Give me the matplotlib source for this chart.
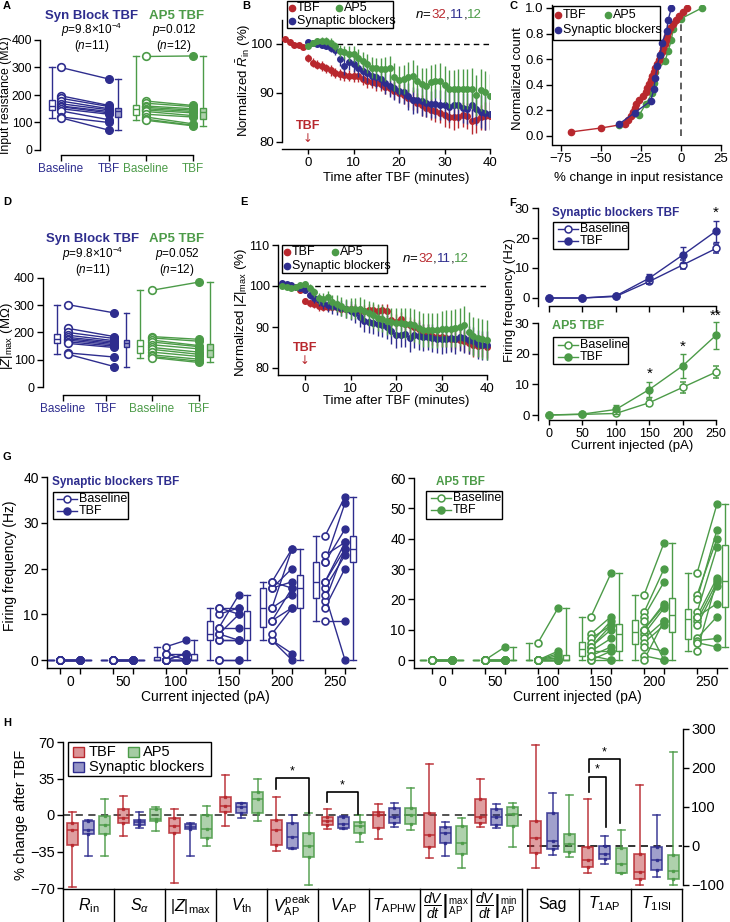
import numpy as np
import matplotlib
matplotlib.use('Agg')
import matplotlib.pyplot as plt
from matplotlib.lines import Line2D
from matplotlib.patches import Rectangle
from matplotlib.colors import to_rgba
import matplotlib.transforms as mtrans

# ===================== DATA =====================
# Panel A: input resistance (MOhm), paired cells
A_syn_base = [300, 197, 188, 178, 168, 160, 157, 150, 142, 120, 117]
A_syn_tbf = [258, 162, 158, 150, 146, 140, 135, 130, 110, 100, 72]
A_ap5_base = [340, 178, 170, 160, 155, 150, 145, 140, 130, 120, 112, 108]
A_ap5_tbf = [342, 162, 158, 150, 145, 140, 135, 125, 120, 95, 90, 88]
pair_labels = ['Baseline', 'TBF', 'Baseline', 'TBF']

# Panel B: normalized Rin time course
B_time_red = list(range(-5, 41))
B_time_grp = list(range(0, 41))
B_red = [101.0, 100.5, 99.8, 99.8, 99.3,
         97.2, 96.2, 95.8, 95.5, 95.0, 94.6, 94.1, 93.8, 93.7, 93.5,
         93.4, 93.5, 92.8, 92.5, 92.3, 92.0, 91.8, 91.3, 91.0, 90.5,
         90.0, 89.5, 89.0, 88.6, 88.0, 87.5, 87.0, 86.6, 86.3, 86.0,
         85.5, 85.2, 85.0, 85.2, 85.6, 85.3, 84.2, 84.5, 85.0, 85.3,
         85.4]
B_red_err = [0.4, 0.4, 0.3, 0.4, 0.4,
             0.8, 0.9, 0.9, 1.0, 1.0, 1.1, 1.0, 1.1, 1.2, 1.1,
             1.2, 1.3, 1.2, 1.4, 1.3, 1.5, 1.4, 1.6, 1.5, 1.7,
             1.8, 1.7, 1.9, 2.0, 1.9, 2.1, 2.0, 2.2, 2.3, 2.2,
             2.4, 2.3, 2.5, 2.4, 2.5, 2.6, 2.5, 2.7, 2.6, 2.8,
             2.7]
B_blue = [100.5, 100.2, 100.0, 99.8, 99.6, 99.2, 98.8, 97.0, 95.5, 96.3,
          96.0, 95.0, 94.5, 94.0, 93.5, 93.3, 92.8, 92.0, 91.5, 91.0,
          90.5, 90.3, 89.3, 88.5, 88.5, 88.3, 88.0, 87.7, 87.8, 87.5,
          87.6, 87.2, 87.6, 87.5, 87.0, 86.8, 87.5, 86.7, 86.2, 86.0,
          85.8]
B_blue_err = [0.5, 0.6, 0.6, 0.7, 0.7, 0.8, 1.0, 1.5, 1.8, 1.6,
              1.7, 1.8, 2.0, 1.9, 2.1, 2.2, 2.0, 2.3, 2.4, 2.5,
              2.6, 2.5, 2.7, 2.8, 2.6, 2.9, 3.0, 2.8, 3.0, 3.1,
              2.9, 3.2, 3.0, 3.3, 3.1, 3.2, 3.4, 3.2, 3.3, 3.5,
              3.4]
B_green = [99.6, 100.2, 100.6, 100.7, 100.6, 100.3, 99.5, 98.5, 98.3, 98.0,
           97.9, 97.2, 96.5, 96.0, 95.2, 95.0, 94.8, 94.9, 95.0, 93.3,
           92.7, 92.8, 93.3, 93.5, 92.5, 91.8, 91.5, 92.2, 92.5, 92.5,
           91.7, 90.8, 90.8, 90.8, 90.8, 90.8, 90.9, 89.5, 90.6, 90.2,
           89.4]
B_green_err = [0.5, 0.6, 0.6, 0.7, 0.8, 0.9, 1.0, 1.2, 1.3, 1.5,
               1.6, 1.7, 1.8, 2.0, 2.1, 2.2, 2.3, 2.5, 2.6, 2.8,
               2.9, 3.0, 3.1, 3.2, 3.3, 3.4, 3.5, 3.6, 3.5, 3.7,
               3.8, 3.9, 3.8, 4.0, 4.1, 4.0, 4.2, 4.1, 4.3, 4.2,
               4.4]

# Panel C: % change in input resistance (sorted, per cell)
C_tbf = [-69, -50, -35, -33, -31, -30, -29, -28, -26, -24,
         -22, -21, -20, -19, -18, -17, -16, -15, -14, -13,
         -12, -11, -10, -9.5, -9, -8, -7, -5, -3, -1, 1, 4]
C_syn = [-39, -29, -19, -17, -16, -15, -13, -12, -9, -8, -6]
C_ap5 = [-39, -26, -22, -18, -17, -16, -10, -8, -6, -5, 0, 13]

# Panel D: |Z|max (MOhm)
D_syn_base = [302, 215, 200, 190, 182, 177, 172, 166, 160, 125, 120]
D_syn_tbf = [272, 185, 178, 170, 165, 160, 155, 150, 145, 110, 75]
D_ap5_base = [355, 185, 180, 172, 165, 155, 145, 138, 128, 118, 112, 108]
D_ap5_tbf = [385, 175, 168, 152, 148, 140, 128, 120, 112, 102, 95, 90]

# Panel E: normalized |Z|max time course (-5..40 min)
E_time = list(range(-5, 41))
E_red = [100.5, 100.3, 100.0, 99.8, 99.0,
         96.3, 95.8, 95.5, 95.0, 94.9, 94.9, 94.8, 94.8, 94.5, 94.3,
         94.3, 94.2, 94.0, 94.0, 94.2, 94.1, 94.0, 94.1, 94.0, 91.8,
         91.3, 92.0, 90.8, 90.5, 90.0, 89.5, 88.8, 88.5, 87.8, 87.5,
         87.5, 87.3, 87.0, 87.0, 86.8, 86.5, 86.0, 85.5, 85.3, 85.5,
         85.2]
E_red_err = [0.3, 0.3, 0.3, 0.4, 0.5,
             0.8, 0.9, 0.9, 1.0, 1.0, 1.1, 1.0, 1.1, 1.2, 1.1,
             1.2, 1.3, 1.2, 1.4, 1.3, 1.5, 1.4, 1.6, 1.5, 1.7,
             1.8, 1.7, 1.9, 2.0, 1.9, 2.1, 2.0, 2.2, 2.3, 2.2,
             2.4, 2.3, 2.5, 2.4, 2.5, 2.6, 2.5, 2.7, 2.6, 2.8,
             2.7]
E_blue = [100.8, 100.6, 100.2, 99.8, 99.5,
          99.0, 97.8, 97.0, 96.5, 95.8, 95.3, 95.0, 94.8, 94.6, 94.5,
          94.0, 93.3, 92.5, 91.5, 91.2, 91.0, 90.8, 90.5, 90.0, 89.0,
          88.0, 88.0, 88.2, 87.3, 88.0, 87.8, 87.5, 87.5, 87.3, 87.0,
          87.0, 87.0, 87.2, 87.0, 87.5, 87.3, 86.8, 86.5, 85.8, 85.5,
          85.5]
E_blue_err = [0.4, 0.4, 0.5, 0.5, 0.6,
              0.8, 1.0, 1.2, 1.3, 1.5, 1.6, 1.8, 1.9, 2.0, 2.2,
              2.3, 2.4, 2.5, 2.6, 2.7, 2.8, 2.9, 3.0, 3.0, 3.1,
              3.2, 3.0, 3.1, 3.3, 3.2, 3.4, 3.3, 3.2, 3.4, 3.3,
              3.5, 3.4, 3.3, 3.5, 3.4, 3.6, 3.5, 3.4, 3.5, 3.6,
              3.5]
E_green = [100.0, 99.8, 99.5, 99.8, 100.2,
           100.5, 99.5, 98.5, 97.0, 96.8, 97.2, 96.0, 95.7, 95.0, 94.5,
           94.5, 94.5, 94.5, 94.0, 93.3, 92.9, 92.3, 92.0, 91.5, 91.2,
           91.0, 91.0, 90.8, 90.8, 90.4, 89.8, 89.2, 89.2, 89.2, 89.2,
           89.4, 89.6, 89.6, 89.8, 90.0, 90.4, 88.9, 87.7, 87.4, 87.1,
           86.8]
E_green_err = [0.4, 0.5, 0.5, 0.6, 0.6,
               0.7, 0.9, 1.1, 1.3, 1.5, 1.7, 1.9, 2.1, 2.2, 2.4,
               2.5, 2.6, 2.8, 2.9, 3.0, 3.1, 3.2, 3.3, 3.4, 3.5,
               3.6, 3.7, 3.8, 3.9, 4.0, 4.0, 4.1, 4.2, 4.3, 4.3,
               4.4, 4.5, 4.5, 4.6, 4.6, 4.7, 4.7, 4.8, 4.8, 4.9,
               4.9]

# Panel F: mean firing frequency (Hz) vs current (pA)
F_current = [0, 50, 100, 150, 200, 250]
F_syn_base = [0, 0, 0.5, 5.5, 11.0, 16.5]
F_syn_base_err = [0, 0, 0.3, 1.0, 1.5, 1.5]
F_syn_tbf = [0, 0, 0.7, 6.6, 14.3, 22.3]
F_syn_tbf_err = [0, 0, 0.3, 1.5, 2.6, 3.5]
F_ap5_base = [0, 0.2, 0.5, 4.0, 9.0, 14.0]
F_ap5_base_err = [0, 0.2, 0.5, 1.2, 1.8, 2.0]
F_ap5_tbf = [0, 0.3, 1.8, 8.3, 16.0, 26.0]
F_ap5_tbf_err = [0, 0.3, 1.5, 2.5, 3.8, 4.4]

# Panel G: per-cell firing frequency (Hz), rows = 0,50,...,250 pA
G_labels = ['0', '50', '100', '150', '200', '250']
G_syn_base = [
    [0, 0, 0, 0, 0, 0, 0, 0, 0, 0, 0],
    [0, 0, 0, 0, 0, 0, 0, 0, 0, 0, 0],
    [0, 0, 0, 0, 0, 0, 0, 0, 1.4, 1.4, 2.9],
    [0, 0, 4.3, 4.3, 5.7, 5.7, 7.1, 7.1, 10, 11.4, 11.4],
    [4.3, 4.3, 5.7, 8.6, 8.6, 11.4, 11.4, 15.7, 15.7, 17.1, 17.1],
    [8.6, 11.4, 12.9, 14.3, 15.7, 17.1, 17.1, 21.4, 21.4, 22.9, 27.1]]
G_syn_tbf = [
    [0, 0, 0, 0, 0, 0, 0, 0, 0, 0, 0],
    [0, 0, 0, 0, 0, 0, 0, 0, 0, 0, 0],
    [0, 0, 0, 0, 1.4, 0, 0, 1.4, 0, 1.4, 4.3],
    [0, 0, 4.3, 4.3, 10, 4.3, 14.3, 7.1, 11.4, 11.4, 10],
    [0, 1.4, 11.4, 11.4, 15.7, 14.3, 24.3, 17.1, 20, 24.3, 15.7],
    [8.6, 20, 24.3, 0, 22.9, 25.7, 24.3, 34.3, 28.6, 25.7, 35.7]]
G_ap5_base = [
    [0, 0, 0, 0, 0, 0, 0, 0, 0, 0, 0, 0],
    [0, 0, 0, 0, 0, 0, 0, 0, 0, 0, 0, 0],
    [0, 0, 0, 0, 0, 0, 0, 0, 0, 0, 0, 5.7],
    [14.3, 8.6, 7.1, 5.7, 4.3, 4.3, 2.9, 2.9, 1.4, 0, 0, 1.4],
    [21.4, 15.7, 14.3, 10, 8.6, 7.1, 5.7, 4.3, 1.4, 0, 12.9, 10],
    [28.6, 21.4, 20, 15.7, 14.3, 12.9, 11.4, 14.3, 7.1, 6.4, 5.7, 2.9]]
G_ap5_tbf = [
    [0, 0, 0, 0, 0, 0, 0, 0, 0, 0, 0, 0],
    [0, 0, 0, 0, 0, 0, 0, 0, 0, 0, 0, 4.3],
    [0, 0, 0, 0, 0, 0, 0.7, 1.4, 2.1, 2.9, 0, 17.1],
    [28.6, 14.3, 11.4, 12.9, 10, 11.4, 7.1, 2.9, 4.3, 0, 2.9, 0],
    [38.6, 30, 25.7, 18.6, 17.1, 12.9, 11.4, 2.9, 0, 12.9, 0, 17.9],
    [51.4, 40, 42.9, 37.1, 27.1, 25.7, 24.3, 18.6, 14.3, 7.1, 4.3, 26.4]]

# Panel H: % change after TBF (whislo, q1, median, q3, whishi)
H_labels_left = [r'$R_{\rm in}$', r'$S_{\alpha}$', r'$|Z|_{\rm max}$', r'$V_{\rm th}$',
                 r'$V_{\rm AP}^{\rm peak}$', r'$V_{\rm AP}$', r'$T_{\rm APHW}$',
                 r'$\left.\dfrac{dV}{dt}\right|_{\rm AP}^{\rm max}$',
                 r'$\left.\dfrac{dV}{dt}\right|_{\rm AP}^{\rm min}$']
H_labels_right = ['Sag', r'$T_{\rm 1AP}$', r'$T_{\rm 1ISI}$']
H_tbf = [(-69, -29, -14, -8, 3), (-20, -8, -2.6, 5.5, 18.3), (-65, -17, -10.6, -3.2, 5.8),
         (-10.6, 3.2, 9, 17, 38), (-34.7, -28.9, -14.5, -4.8, 17), (-13.8, -9.6, -5.5, -2.2, 5.8),
         (-23, -12.8, 0, 3.2, 10.2), (-41.5, -31, -19.2, 2.2, 48.8), (-11.2, -7.4, -2.2, 15.3, 34.4),
         (-56, -19, 20, 64, 259), (-70, -55, -36, -2, 120), (-100, -85, -66, -21, 156)]
H_syn = [(-39, -18, -14, -6, -5), (-12, -9.6, -6.4, -4.8, 3.2), (-39, -13.8, -11.2, -8.7, -8),
         (-3.2, 1.6, 7.4, 11.2, 11.9), (-33, -32, -21.5, -8, 0), (-13.8, -12.8, -8.7, -1.6, -1),
         (-11.8, -8, -2.2, 7, 11.8), (-39, -26.5, -17, -11.2, -6.4), (-12.2, -9.6, -1.6, 5.8, 10.2),
         (-23, -9, 14, 85, 135), (-47, -34, -21, 0, 26), (-79, -62, -36, -2, 80)]
H_ap5 = [(-39, -18, -9.6, -1, 15), (-15.4, -5.8, -3.9, 5.5, 8), (-30, -21.8, -13.8, 0, 9),
         (-5.5, 1.6, 15, 22.5, 34.7), (-67.4, -40, -29.5, -17.7, 1.6), (-26.3, -17, -10.6, -6.4, 0),
         (-14.4, -9, 0, 7, 25.6), (-50.5, -37.7, -26.5, -10.6, -3.2), (-30.4, -10.6, 1, 8, 11.2),
         (-29, -15, 5, 31, 132), (-68, -68, -47, -4, 41), (-100, -85, -63, -23, 240)]

# ===================== STYLE / LAYOUT =====================
W, H = 730, 922
BLUE = '#2e2d8e'
GREEN = '#4c9b48'
RED = '#b8282e'

plt.rcParams.update({
    'font.family': ['Liberation Sans', 'DejaVu Sans'],
    'mathtext.fontset': 'custom',
    'mathtext.rm': 'Liberation Sans',
    'mathtext.it': 'Liberation Sans:italic',
    'mathtext.bf': 'Liberation Sans:bold',
    'mathtext.sf': 'Liberation Sans',
    'font.size': 9,
    'axes.linewidth': 1.0,
    'xtick.major.width': 1.0, 'ytick.major.width': 1.0,
    'xtick.major.size': 4, 'ytick.major.size': 4,
    'xtick.labelsize': 9.5, 'ytick.labelsize': 9.5,
    'xtick.major.pad': 2, 'ytick.major.pad': 2,
})

fig = plt.figure(figsize=(W / 100, H / 100), dpi=100)


def fx(x):
    return x / W


def fy(y):
    return 1 - y / H


def make_ax(box, xmap, ymap):
    l, t, r, b = box
    ax = fig.add_axes([l / W, 1 - b / H, (r - l) / W, (b - t) / H])
    (p1, v1), (p2, v2) = xmap
    s = (p2 - p1) / (v2 - v1)
    ax.set_xlim(v1 + (l - p1) / s, v1 + (r - p1) / s)
    (p1, v1), (p2, v2) = ymap
    s = (p2 - p1) / (v2 - v1)
    ax.set_ylim(v1 + (b - p1) / s, v1 + (t - p1) / s)
    ax.spines[['top', 'right']].set_visible(False)
    ax.patch.set_alpha(0)
    return ax


def ftext(x, y, s, **kw):
    kw.setdefault('ha', 'center')
    kw.setdefault('va', 'center')
    return fig.text(fx(x), fy(y), s, **kw)


def legend_box(x0, y0, x1, y1):
    fig.add_artist(Rectangle((fx(x0), fy(y1)), (x1 - x0) / W, (y1 - y0) / H,
                             transform=fig.transFigure, facecolor='white',
                             edgecolor='black', lw=1.0, zorder=10))


def leg_dot(x, y, color, label, tx, fs=9, ms=5):
    fig.add_artist(Line2D([fx(x)], [fy(y)], marker='o', color=color, ms=ms, ls='none',
                          transform=fig.transFigure, zorder=11))
    fig.text(fx(tx), fy(y), label, ha='left', va='center', fontsize=fs, zorder=11)


def leg_line(x0, x1, y, color, filled, label, tx, fs=9, ms=5):
    fig.add_artist(Line2D([fx(x0), fx(x1)], [fy(y), fy(y)], color=color, lw=1,
                          transform=fig.transFigure, zorder=11))
    fig.add_artist(Line2D([fx((x0 + x1) / 2)], [fy(y)], marker='o', ms=ms, mec=color,
                          mfc=color if filled else 'white', mew=1.1, ls='none',
                          transform=fig.transFigure, zorder=12))
    fig.text(fx(tx), fy(y), label, ha='left', va='center', fontsize=fs, zorder=11)


def leg_patch(x, y, color, label, tx, fs=10.5):
    fig.add_artist(Rectangle((fx(x - 5.5), fy(y + 5)), 11 / W, 10 / H, transform=fig.transFigure,
                             facecolor=to_rgba(color, 0.5), edgecolor=color, lw=1.0, zorder=11))
    fig.text(fx(tx), fy(y), label, ha='left', va='center', fontsize=fs, zorder=11)


def multicolor(x, y, parts, fs=9.5):
    r = fig.canvas.get_renderer()
    cur = x
    for s, c in parts:
        t = fig.text(fx(cur), fy(y), s, color=c, fontsize=fs, ha='left', va='center')
        cur += t.get_window_extent(renderer=r).width


def boxes(ax, data, positions, color, fills, width, lw=1.0):
    for d, p, f in zip(data, positions, fills):
        ax.boxplot([d], positions=[p], widths=width, whis=(0, 100), showfliers=False,
                   patch_artist=True, manage_ticks=False, capwidths=width,
                   boxprops=dict(facecolor=to_rgba(color, 0.45) if f else 'white',
                                 edgecolor=color, lw=lw),
                   medianprops=dict(color=color, lw=lw),
                   whiskerprops=dict(color=color, lw=lw),
                   capprops=dict(color=color, lw=lw), zorder=2)


def paired(ax, xb, xt, base, tbf, color, ms=5.5):
    for b, t in zip(base, tbf):
        ax.plot([xb, xt], [b, t], color=color, lw=1, zorder=3)
    ax.plot([xb] * len(base), base, 'o', mfc='white', mec=color, ms=ms, mew=1.2, zorder=4)
    ax.plot([xt] * len(tbf), tbf, 'o', mfc=color, mec=color, ms=ms, zorder=4)


def panel_letter(x, y, s):
    ftext(x, y, s, fontsize=8, weight='bold', ha='left')


# ===================== PANEL A =====================
axA = make_ax((40, 35, 220, 155), ((61, 0), (109, 1)), ((150, 0), (40, 400)))
posA = [0, 1, 1.77, 2.75]
boxA = [-0.19, 1.19, 1.56, 2.96]
paired(axA, posA[0], posA[1], A_syn_base, A_syn_tbf, BLUE)
paired(axA, posA[2], posA[3], A_ap5_base, A_ap5_tbf, GREEN)
boxes(axA, [A_syn_base, A_syn_tbf], [boxA[0], boxA[1]], BLUE, [False, True], 0.11)
boxes(axA, [A_ap5_base, A_ap5_tbf], [boxA[2], boxA[3]], GREEN, [False, True], 0.11)
axA.set_yticks([0, 100, 200, 300, 400])
axA.spines['left'].set_bounds(0, 400)
axA.set_xticks(posA)
axA.set_xticklabels(pair_labels)
axA.tick_params(axis='x', labelsize=8.5)
axA.tick_params(axis='y', labelsize=8.8, pad=1.5)
for lab, c in zip(axA.get_xticklabels(), [BLUE, BLUE, GREEN, GREEN]):
    lab.set_color(c)
axA.spines['bottom'].set_bounds(0, posA[-1])
panel_letter(3, 6, 'A')
ftext(6, 95, 'Input resistance (MΩ)', rotation=90, fontsize=8.8)
ftext(92, 16, 'Syn Block TBF', color=BLUE, weight='bold', fontsize=9.5)
ftext(177, 16, 'AP5 TBF', color=GREEN, weight='bold', fontsize=9.5)
ftext(92, 30, r'$p$=9.8×10$^{-4}$', fontsize=8.5)
ftext(92, 46.5, r'($n$=11)', fontsize=8.5)
ftext(174, 30, r'$p$=0.012', fontsize=8.5)
ftext(174, 46.5, r'($n$=12)', fontsize=8.5)

# ===================== PANEL B =====================
axB = make_ax((282, 20, 490, 149), ((308, 0), (353.5, 10)), ((44, 100), (142, 80)))
axB.plot([0, 41], [100, 100], color='black', lw=1, dashes=(4, 3), zorder=1)
axB.errorbar(B_time_red, B_red, yerr=B_red_err, fmt='o', ms=4, color=RED, elinewidth=1, capsize=0, zorder=3)
axB.errorbar(B_time_grp, B_blue, yerr=B_blue_err, fmt='o', ms=4, color=BLUE, elinewidth=1, capsize=0, zorder=4)
axB.errorbar(B_time_grp, B_green, yerr=B_green_err, fmt='o', ms=4, color=GREEN, elinewidth=1, capsize=0, zorder=5)
axB.set_yticks([80, 90, 100])
axB.set_xticks([0, 10, 20, 30, 40])
axB.tick_params(axis='x', length=3.5)
axB.spines['left'].set_bounds(80, axB.get_ylim()[1])
axB.spines['bottom'].set_bounds(axB.get_xlim()[0], 40)
panel_letter(242, 6, 'B')
ftext(244, 80, r'Normalized $\bar{R}_{\rm in}$ (%)', rotation=90, fontsize=9.5)
ftext(396, 178, 'Time after TBF (minutes)', fontsize=9.5)
ftext(308, 126, 'TBF', color=RED, weight='bold', fontsize=9)
ftext(308, 138, '↓', color=RED, fontsize=8.5, family=['DejaVu Sans'])
legend_box(287, 1, 393, 28)
leg_dot(292, 8, RED, 'TBF', 297, fs=9, ms=4.5)
leg_dot(339, 8, GREEN, 'AP5', 344, fs=9, ms=4.5)
leg_dot(292, 21, BLUE, 'Synaptic blockers', 297, fs=9, ms=4.5)
multicolor(415, 15, [(r'$n$=', 'black'), ('32', RED), (',', 'black'), ('11', BLUE),
                     (',', 'black'), ('12', GREEN)])

# ===================== PANEL C =====================
axC = make_ax((552, 5, 730, 145), ((561, -75), (721, 25)), ((136, 0), (8, 1)))
axC.plot([0, 0], [0, 1.0], color='#444444', lw=1.2, dashes=(4, 3), zorder=1)
for vals, c, z in [(C_ap5, GREEN, 3), (C_tbf, RED, 4), (C_syn, BLUE, 5)]:
    n = len(vals)
    ycdf = [(i + 1) / n for i in range(n)]
    axC.plot(vals, ycdf, '-o', color=c, ms=4.5, lw=1, zorder=z)
axC.set_xticks([-75, -50, -25, 0, 25])
axC.set_yticks([0, 0.2, 0.4, 0.6, 0.8, 1.0])
axC.set_yticklabels(['0.0', '0.2', '0.4', '0.6', '0.8', '1.0'])
axC.spines['bottom'].set_bounds(-80, 25)
panel_letter(510, 6, 'C')
ftext(518, 79, 'Normalized count', rotation=90, fontsize=9.5)
ftext(639, 178, '% change in input resistance', fontsize=9.5)
legend_box(553, 6, 660, 40)
leg_dot(558, 15, RED, 'TBF', 563, fs=9, ms=4.5)
leg_dot(608, 15, GREEN, 'AP5', 613, fs=9, ms=4.5)
leg_dot(558, 30, BLUE, 'Synaptic blockers', 563, fs=9, ms=4.5)

# ===================== PANEL D =====================
axD = make_ax((43, 270, 218, 395), ((63, 0), (106, 1)), ((387, 0), (278, 400)))
circD = [0.12, 1.19, 2.07, 3.16]
boxD = [-0.14, 1.47, 1.79, 3.42]
tickD = [0, 1, 2.07, 3.16]
paired(axD, circD[0], circD[1], D_syn_base, D_syn_tbf, BLUE)
paired(axD, circD[2], circD[3], D_ap5_base, D_ap5_tbf, GREEN)
boxes(axD, [D_syn_base, D_syn_tbf], [boxD[0], boxD[1]], BLUE, [False, True], 0.12)
boxes(axD, [D_ap5_base, D_ap5_tbf], [boxD[2], boxD[3]], GREEN, [False, True], 0.12)
axD.set_yticks([0, 100, 200, 300, 400])
axD.spines['left'].set_bounds(0, 400)
axD.set_xticks(tickD)
axD.set_xticklabels(pair_labels)
axD.tick_params(axis='x', labelsize=8.5)
axD.tick_params(axis='y', labelsize=9)
for lab, c in zip(axD.get_xticklabels(), [BLUE, BLUE, GREEN, GREEN]):
    lab.set_color(c)
axD.spines['bottom'].set_bounds(0, tickD[-1])
panel_letter(3, 202, 'D')
ftext(7.5, 336, r'$|Z|_{\rm max}$ (MΩ)', rotation=90, fontsize=9.5)
ftext(93, 239, 'Syn Block TBF', color=BLUE, weight='bold', fontsize=9.5)
ftext(177, 239, 'AP5 TBF', color=GREEN, weight='bold', fontsize=9.5)
ftext(93, 254, r'$p$=9.8×10$^{-4}$', fontsize=8.5)
ftext(93, 270.5, r'($n$=11)', fontsize=8.5)
ftext(177, 254, r'$p$=0.052', fontsize=8.5)
ftext(177, 270.5, r'($n$=12)', fontsize=8.5)

# ===================== PANEL E =====================
axE = make_ax((278, 240, 490, 375), ((305, 0), (350.5, 10)), ((286, 100), (327, 90)))
axE.plot([0, 41], [100, 100], color='black', lw=1, dashes=(4, 3), zorder=1)
axE.errorbar(E_time, E_red, yerr=E_red_err, fmt='o', ms=4, color=RED, elinewidth=1, capsize=0, zorder=3)
axE.errorbar(E_time, E_blue, yerr=E_blue_err, fmt='o', ms=4, color=BLUE, elinewidth=1, capsize=0, zorder=4)
axE.errorbar(E_time, E_green, yerr=E_green_err, fmt='o', ms=4, color=GREEN, elinewidth=1, capsize=0, zorder=5)
axE.set_yticks([80, 90, 100, 110])
axE.set_xticks([0, 10, 20, 30, 40])
axE.tick_params(axis='x', length=3.5)
axE.tick_params(axis='y', labelsize=9)
axE.spines['left'].set_bounds(axE.get_ylim()[0], 110)
axE.spines['bottom'].set_bounds(axE.get_xlim()[0], 40)
panel_letter(240, 202, 'E')
ftext(241, 312, r'Normalized $|Z|_{\rm max}$ (%)', rotation=90, fontsize=9.5)
ftext(396, 401, 'Time after TBF (minutes)', fontsize=9.5)
ftext(305, 348, 'TBF', color=RED, weight='bold', fontsize=9)
ftext(305, 360, '↓', color=RED, fontsize=8.5, family=['DejaVu Sans'])
legend_box(282, 245, 387, 273)
leg_dot(287, 252, RED, 'TBF', 292, fs=9, ms=4.5)
leg_dot(335, 252, GREEN, 'AP5', 340, fs=9, ms=4.5)
leg_dot(287, 266, BLUE, 'Synaptic blockers', 292, fs=9, ms=4.5)
multicolor(402, 259, [(r'$n$=', 'black'), ('32', RED), (',', 'black'), ('11', BLUE),
                      (',', 'black'), ('12', GREEN)])

# ===================== PANEL F =====================
axF1 = make_ax((538, 205, 722, 306), ((549, 0), (716, 250)), ((298, 0), (208, 30)))
axF2 = make_ax((538, 320, 722, 420), ((549, 0), (716, 250)), ((415, 0), (323, 30)))
for ax, (b, be, t, te, c) in [(axF1, (F_syn_base, F_syn_base_err, F_syn_tbf, F_syn_tbf_err, BLUE)),
                              (axF2, (F_ap5_base, F_ap5_base_err, F_ap5_tbf, F_ap5_tbf_err, GREEN))]:
    ax.errorbar(F_current, b, yerr=be, fmt='-o', ms=5, color=c, mfc='white', mec=c, mew=1.1,
                lw=1, elinewidth=1, capsize=2.5, zorder=3)
    ax.errorbar(F_current, t, yerr=te, fmt='-o', ms=5, color=c, lw=1, elinewidth=1,
                capsize=2.5, zorder=4)
    ax.set_yticks([0, 10, 20, 30])
    ax.spines['left'].set_bounds(ax.get_ylim()[0], 30)
    ax.set_xticks(F_current)
    ax.spines['bottom'].set_bounds(0, 250)
axF1.set_xticklabels([])
axF2.tick_params(axis='x', length=3.5, labelsize=9)
panel_letter(509, 203, 'F')
ftext(510, 300, 'Firing frequency (Hz)', rotation=90, fontsize=9.5)
ftext(632, 446, 'Current injected (pA)', fontsize=9.5)
ftext(552, 213, 'Synaptic blockers TBF', color=BLUE, weight='bold', fontsize=8.5, ha='left')
ftext(552, 326, 'AP5 TBF', color=GREEN, weight='bold', fontsize=9, ha='left')
legend_box(553, 222, 628, 249)
leg_line(558, 578, 229.5, BLUE, False, 'Baseline', 580, fs=9)
leg_line(558, 578, 241.5, BLUE, True, 'TBF', 580, fs=9)
legend_box(553, 337, 628, 364)
leg_line(558, 578, 344.5, GREEN, False, 'Baseline', 580, fs=9)
leg_line(558, 578, 356.5, GREEN, True, 'TBF', 580, fs=9)
ftext(716, 213, '*', fontsize=11)
ftext(650, 374, '*', fontsize=11)
ftext(683, 347, '*', fontsize=11)
ftext(716, 316, '**', fontsize=11)

# ===================== PANEL G =====================
G_dx = 0.377
G_bb = -0.17
G_tb = 0.528


def g_panel(ax, base_rows, tbf_rows, color):
    for g, (b, t) in enumerate(zip(base_rows, tbf_rows)):
        paired(ax, g, g + G_dx, b, t, color, ms=5)
        boxes(ax, [b, t], [g + G_bb, g + G_tb], color, [False, False], 0.095)
    majors = []
    for g in range(len(base_rows)):
        majors += [g, g + G_dx]
    ax.set_xticks(majors)
    ax.set_xticklabels([])
    ax.set_xticks([g + G_dx / 2 for g in range(len(base_rows))], G_labels, minor=True)
    ax.tick_params(axis='x', which='minor', length=0, labelsize=10, pad=5)
    ax.tick_params(axis='y', labelsize=10)
    ax.spines['bottom'].set_bounds(ax.get_xlim()[0], len(base_rows) - 1 + G_tb + 0.03)


axG1 = make_ax((47, 470, 362, 668), ((60, 0), (113, 1)), ((660, 0), (477, 40)))
g_panel(axG1, G_syn_base, G_syn_tbf, BLUE)
axG1.set_yticks([0, 10, 20, 30, 40])
axG1.spines['left'].set_bounds(axG1.get_ylim()[0], 40)
axG2 = make_ax((414, 470, 730, 668), ((432, 0), (485, 1)), ((660, 0), (478, 60)))
g_panel(axG2, G_ap5_base, G_ap5_tbf, GREEN)
axG2.set_yticks([0, 10, 20, 30, 40, 50, 60])
axG2.spines['left'].set_bounds(axG2.get_ylim()[0], 60)
panel_letter(3, 457, 'G')
ftext(10, 566, 'Firing frequency (Hz)', rotation=90, fontsize=10)
ftext(205, 697, 'Current injected (pA)', fontsize=10)
ftext(577, 697, 'Current injected (pA)', fontsize=10)
ftext(52, 482, 'Synaptic blockers TBF', color=BLUE, weight='bold', fontsize=8.5, ha='left')
ftext(436, 482, 'AP5 TBF', color=GREEN, weight='bold', fontsize=8.5, ha='left')
legend_box(53, 492, 128, 519)
leg_line(57, 77, 499, BLUE, False, 'Baseline', 79, fs=9)
leg_line(57, 77, 511, BLUE, True, 'TBF', 79, fs=9)
legend_box(426, 491, 502, 519)
leg_line(431, 451, 498, GREEN, False, 'Baseline', 453, fs=9)
leg_line(431, 451, 510, GREEN, True, 'TBF', 453, fs=9)

# ===================== PANEL H =====================
axH = make_ax((63, 729, 683, 889), ((63, 0), (114, 1)), ((815, 0), (742, 70)))
axH2 = axH.twinx()
axH2.set_ylim(-110.3, 300)
axH2.spines[['left', 'top', 'bottom']].set_visible(False)
axH2.spines['right'].set_bounds(-100, 300)
axH2.set_yticks([-100, 0, 100, 200, 300])
axH2.tick_params(axis='y', labelsize=10.5)
axH.spines['bottom'].set_visible(False)
axH.spines['left'].set_bounds(-70, 70)
axH.set_yticks([-70, -35, 0, 35, 70])
axH.tick_params(axis='y', labelsize=10.5)
axH.set_xticks([])

cen_left = [i + 0.5 for i in range(9)]
cen_right = [9.6, 10.62, 11.64]
offs = [-0.32, 0.0, 0.32]
bw = 0.22


def hbox(ax, stats_list, positions, color):
    stats = [dict(whislo=s[0], q1=s[1], med=s[2], q3=s[3], whishi=s[4]) for s in stats_list]
    ec = to_rgba(color, 0.85)
    ax.bxp(stats, positions=positions, widths=bw, patch_artist=True, showfliers=False,
           manage_ticks=False, capwidths=bw * 0.6,
           boxprops=dict(facecolor=to_rgba(color, 0.45), edgecolor=ec, lw=1.2),
           medianprops=dict(color=ec, lw=1.2), whiskerprops=dict(color=ec, lw=1.2),
           capprops=dict(color=ec, lw=1.2))
    for s, p in zip(stats_list, positions):
        ax.plot([p, p, p], [s[1], s[2], s[3]], 's', color=ec, ms=2, zorder=5)


for k, (series, col) in enumerate([(H_tbf, RED), (H_syn, BLUE), (H_ap5, GREEN)]):
    hbox(axH, series[:9], [c + offs[k] for c in cen_left], col)
    hbox(axH2, series[9:], [c + offs[k] * 1.03 for c in cen_right], col)

axH.plot([0, 9.0], [0, 0], color='#444444', lw=1.3, dashes=(4, 3), zorder=1)
axH2.plot([9.1, 12.14], [0, 0], color='#222222', lw=1.3, dashes=(4, 3), zorder=1)
axH.set_xlim(0, 12.157)
axH2.set_xlim(0, 12.157)

# brackets
axH.plot([4.18, 4.18, 4.82, 4.82], [24.5, 35.3, 35.3, 2], color='black', lw=1.2, clip_on=False)
axH.text(4.5, 36, '*', ha='center', va='bottom', fontsize=9)
axH.plot([5.17, 5.17, 5.79, 5.79], [12.8, 22.5, 22.5, 1], color='black', lw=1.2, clip_on=False)
axH.text(5.48, 23, '*', ha='center', va='bottom', fontsize=9)
axH2.plot([10.31, 10.31, 10.93, 10.93], [190, 222, 222, 60], color='black', lw=1.2, clip_on=False)
axH2.text(10.62, 224, '*', ha='center', va='bottom', fontsize=9)
axH2.plot([10.31, 10.31, 10.64, 10.64], [139, 178, 178, 48], color='black', lw=1.2, clip_on=False)
axH2.text(10.47, 180, '*', ha='center', va='bottom', fontsize=9)

# category row
trH = mtrans.blended_transform_factory(axH.transData, fig.transFigure)
yb = fy(889)
for x0, x1 in [(0, 9.0), (9.1, 12.14)]:
    fig.add_artist(Line2D([x0, x1], [yb, yb], color='black', lw=1.0, transform=trH))
for xs in list(range(10)) + [9.1, 10.12, 11.13, 12.14]:
    fig.add_artist(Line2D([xs, xs], [yb, 0], color='black', lw=1.0, transform=trH))
for i, (c, lab) in enumerate(zip(cen_left, H_labels_left)):
    fs = 10 if i >= 7 else 11.5
    fig.text(c, fy(906), lab, transform=trH, ha='center', va='center', fontsize=fs)
for c, lab in zip(cen_right, H_labels_right):
    fig.text(c, fy(904), lab, transform=trH, ha='center', va='center', fontsize=11.5)

panel_letter(3, 723, 'H')
ftext(21, 815, '% change after TBF', rotation=90, fontsize=10.5)
legend_box(68, 742, 211, 776)
leg_patch(78, 752, RED, 'TBF', 89)
leg_patch(133, 752, GREEN, 'AP5', 143)
leg_patch(78, 767, BLUE, 'Synaptic blockers', 89)

fig.savefig('out.png', dpi=100)
